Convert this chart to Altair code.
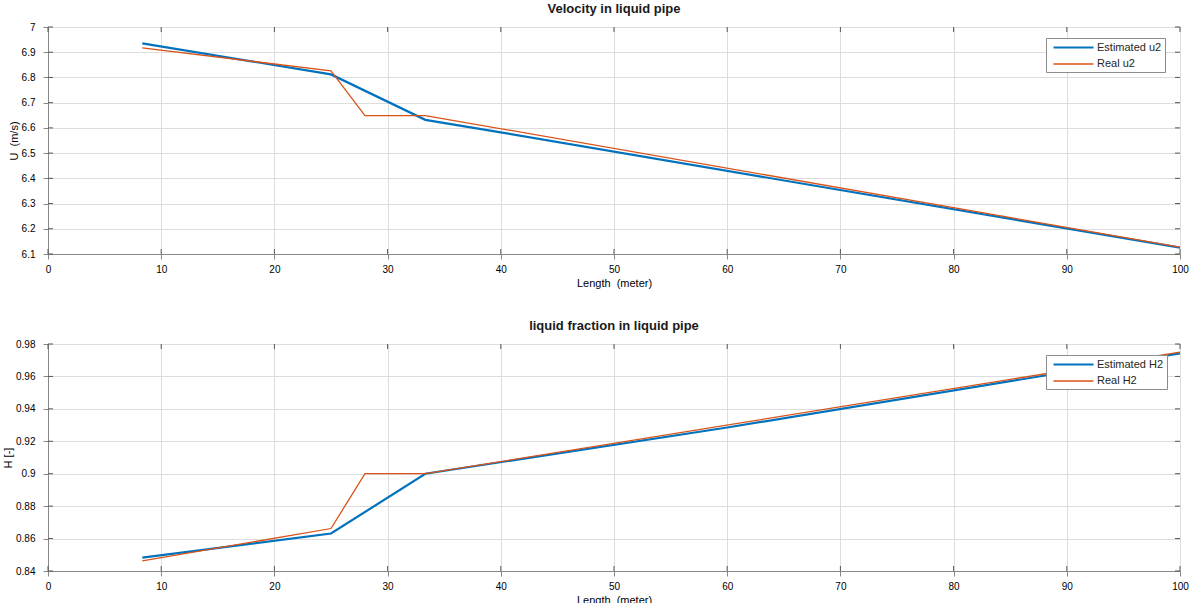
import altair as alt
import pandas as pd

# ---- data -------------------------------------------------------------
len_u_est = [8.33, 25.0, 33.33, 40.0, 100.0]
u_est = [6.935, 6.812, 6.632, 6.582, 6.125]
len_u_real = [8.33, 25.0, 28.0, 33.33, 100.0]
u_real = [6.917, 6.826, 6.649, 6.649, 6.127]

len_h_est = [8.33, 25.0, 33.33, 60.0, 100.0]
h_est = [0.8483, 0.8631, 0.9, 0.9285, 0.9742]
len_h_real = [8.33, 25.0, 28.0, 33.33, 100.0]
h_real = [0.8462, 0.8662, 0.9, 0.9, 0.975]

x_ticks = [0, 10, 20, 30, 40, 50, 60, 70, 80, 90, 100]
u_ticks = [6.1, 6.2, 6.3, 6.4, 6.5, 6.6, 6.7, 6.8, 6.9, 7.0]
h_ticks = [0.84, 0.86, 0.88, 0.9, 0.92, 0.94, 0.96, 0.98]

u_series = ["Estimated u2", "Real u2"]
h_series = ["Estimated H2", "Real H2"]

# ---- styling ----------------------------------------------------------
W, H = 1132, 227
FONT = "Liberation Sans"
BLUE, ORANGE = "#0072BD", "#D95319"
TICK_COLOR = "#555555"
NBSP = "\u00a0"


def long_frame(names, xs_list, ys_list):
    rows = []
    for name, xs, ys in zip(names, xs_list, ys_list):
        for x, y in zip(xs, ys):
            rows.append({"len": x, "val": y, "series": name})
    return pd.DataFrame(rows)


def series_legend():
    return alt.Legend(
        title=None,
        orient="none",
        legendX=W - 134,
        legendY=11,
        fillColor="white",
        strokeColor="#8c8c8c",
        padding=3,
        rowPadding=5,
        symbolType="M-4,0H4",
        symbolSize=100,
        symbolOffset=18,
        labelOffset=17,
        labelFontSize=11,
        labelFont=FONT,
        labelColor="#262626",
        cornerRadius=0,
    )


def panel(df, names, y_domain, y_ticks, y_fmt, y_title, title):
    x_scale = alt.Scale(domain=[0, 100], nice=False)
    y_scale = alt.Scale(domain=y_domain, nice=False, zero=False)
    x_axis = alt.Axis(values=x_ticks, title=f"Length{NBSP} (meter)",
                      titleFontWeight="normal", labelOverlap=False,
                      labelFlush=False, labelPadding=5, titlePadding=3)
    y_axis = alt.Axis(values=y_ticks, title=y_title,
                      titleFontWeight="normal", labelOverlap=False,
                      labelFlush=False, labelPadding=8, titlePadding=2,
                      labelExpr=f"format(datum.value, '{y_fmt}')")

    lines = alt.Chart(df).mark_line(clip=True).encode(
        x=alt.X("len:Q", scale=x_scale, axis=x_axis),
        y=alt.Y("val:Q", scale=y_scale, axis=y_axis),
        color=alt.Color(
            "series:N",
            scale=alt.Scale(domain=names, range=[BLUE, ORANGE]),
            legend=series_legend(),
        ),
        strokeWidth=alt.StrokeWidth(
            "series:N",
            scale=alt.Scale(domain=names, range=[2.2, 1.3]),
            legend=series_legend(),
        ),
        order=alt.Order("series:N", sort="descending"),
    )

    # inward tick marks on all four sides of the box
    xt = pd.DataFrame({"t": x_ticks})
    yt = pd.DataFrame({"t": y_ticks})
    tx = alt.X("t:Q", scale=x_scale, axis=x_axis)
    ty = alt.Y("t:Q", scale=y_scale, axis=y_axis)
    rule = dict(color=TICK_COLOR, strokeWidth=1)
    tick_bottom = alt.Chart(xt).mark_rule(**rule).encode(
        x=tx, y=alt.value(H), y2=alt.value(H - 5))
    tick_top = alt.Chart(xt).mark_rule(**rule).encode(
        x=tx, y=alt.value(0), y2=alt.value(5))
    tick_left = alt.Chart(yt).mark_rule(**rule).encode(
        y=ty, x=alt.value(0), x2=alt.value(5))
    tick_right = alt.Chart(yt).mark_rule(**rule).encode(
        y=ty, x=alt.value(W - 5), x2=alt.value(W))

    return (
        alt.layer(lines, tick_bottom, tick_top, tick_left, tick_right)
        .properties(
            width=W,
            height=H,
            title=alt.TitleParams(
                title,
                fontSize=13,
                fontWeight="bold",
                font=FONT,
                color="#1a1a1a",
                anchor="middle",
                offset=6,
            ),
        )
    )


df_u = long_frame(u_series, [len_u_est, len_u_real], [u_est, u_real])
df_h = long_frame(h_series, [len_h_est, len_h_real], [h_est, h_real])

top = panel(df_u, u_series, [6.1, 7.0], u_ticks, ".1~f", f"U{NBSP} (m/s)",
            "Velocity in liquid pipe")
bottom = panel(df_h, h_series, [0.84, 0.98], h_ticks, ".2~f", "H [-]",
               "liquid fraction in liquid pipe")

chart = (
    alt.vconcat(top, bottom, spacing=30)
    .resolve_scale(color="independent", strokeWidth="independent")
    .resolve_legend(color="independent", strokeWidth="independent")
    .properties(padding={"left": 2, "top": 2, "right": 0, "bottom": 0})
    .configure_view(stroke="#8c8c8c", strokeWidth=1)
    .configure_axis(
        grid=True,
        gridColor="#e3e3e3",
        gridWidth=1,
        domain=False,
        ticks=False,
        labelFont=FONT,
        labelFontSize=10,
        labelColor="#404040",
        titleFont=FONT,
        titleFontSize=10,
        titleFontWeight="normal",
        titleColor="#262626",
    )
    .configure(background="white")
)

chart.save("out.html", embed_options={"renderer": "svg", "actions": False})
